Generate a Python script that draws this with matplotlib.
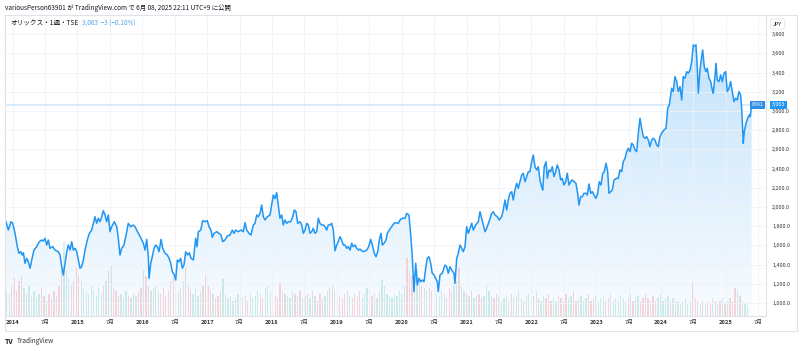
import numpy as np
import matplotlib
matplotlib.use("Agg")
import matplotlib.pyplot as plt
from matplotlib.colors import to_rgb

plt.rcParams['font.family'] = ['Noto Sans CJK JP', 'DejaVu Sans']

# 週足終値 (時刻は小数年)
t = [
    2013.900, 2013.935, 2013.977, 2014.003, 2014.039, 2014.074, 2014.100, 2014.126, 2014.151, 2014.167,
    2014.193, 2014.219, 2014.244, 2014.270, 2014.296, 2014.331, 2014.373, 2014.413, 2014.450, 2014.475,
    2014.501, 2014.527, 2014.552, 2014.578, 2014.620, 2014.655, 2014.706, 2014.732, 2014.759, 2014.783,
    2014.809, 2014.836, 2014.860, 2014.887, 2014.913, 2014.937, 2014.964, 2014.990, 2015.015, 2015.041,
    2015.067, 2015.092, 2015.118, 2015.153, 2015.184, 2015.221, 2015.246, 2015.272, 2015.298, 2015.323,
    2015.349, 2015.375, 2015.400, 2015.426, 2015.452, 2015.477, 2015.503, 2015.529, 2015.570, 2015.607,
    2015.631, 2015.657, 2015.684, 2015.719, 2015.761, 2015.785, 2015.822, 2015.862,
    2015.889, 2015.940, 2015.981, 2016.017, 2016.043, 2016.069, 2016.094, 2016.105, 2016.131, 2016.155,
    2016.182, 2016.208, 2016.233, 2016.259, 2016.290, 2016.316, 2016.351, 2016.387, 2016.413, 2016.439,
    2016.464, 2016.495, 2016.516, 2016.541, 2016.567, 2016.593, 2016.618, 2016.644, 2016.670, 2016.701,
    2016.726, 2016.752, 2016.788, 2016.825, 2016.845, 2016.865, 2016.902, 2016.933, 2016.968, 2017.003,
    2017.030, 2017.060, 2017.081, 2017.107, 2017.148, 2017.184, 2017.215, 2017.241, 2017.276, 2017.312,
    2017.353, 2017.389, 2017.415, 2017.441, 2017.481, 2017.523, 2017.558, 2017.585, 2017.611, 2017.646,
    2017.677, 2017.713, 2017.739, 2017.765, 2017.790, 2017.816, 2017.842, 2017.867, 2017.893, 2017.929,
    2017.970, 2017.996, 2018.021, 2018.047, 2018.073, 2018.098, 2018.124, 2018.151, 2018.175, 2018.201,
    2018.228, 2018.252, 2018.289, 2018.320, 2018.345, 2018.371, 2018.397, 2018.433, 2018.459, 2018.484,
    2018.510, 2018.536, 2018.561, 2018.587, 2018.613, 2018.638, 2018.664, 2018.690, 2018.715, 2018.741,
    2018.767, 2018.792, 2018.818, 2018.844, 2018.869, 2018.895, 2018.921, 2018.946, 2018.972, 2018.999,
    2019.023, 2019.049, 2019.076, 2019.100, 2019.127, 2019.153, 2019.177, 2019.204, 2019.230, 2019.254,
    2019.281, 2019.307, 2019.332, 2019.358, 2019.384, 2019.419, 2019.461, 2019.492, 2019.523, 2019.554,
    2019.578, 2019.605, 2019.631, 2019.655, 2019.682, 2019.702, 2019.728, 2019.759, 2019.779, 2019.810,
    2019.847, 2019.882, 2019.913, 2019.948, 2019.975, 2020.010,
    2020.052, 2020.078, 2020.113, 2020.140, 2020.164, 2020.190, 2020.217, 2020.241, 2020.267, 2020.294,
    2020.318, 2020.345, 2020.371, 2020.395, 2020.422, 2020.448, 2020.472, 2020.499, 2020.525, 2020.550,
    2020.565, 2020.591, 2020.627, 2020.668, 2020.695, 2020.719, 2020.745, 2020.772, 2020.807, 2020.822,
    2020.849, 2020.873, 2020.900, 2020.926, 2020.950, 2020.977, 2021.003, 2021.028, 2021.054, 2021.080,
    2021.105, 2021.142, 2021.182, 2021.208, 2021.234, 2021.259, 2021.285, 2021.311, 2021.347, 2021.388,
    2021.413, 2021.439, 2021.475, 2021.505, 2021.542, 2021.567, 2021.593, 2021.620, 2021.644, 2021.670,
    2021.697, 2021.721, 2021.747, 2021.774, 2021.798, 2021.825, 2021.851, 2021.875, 2021.902, 2021.928,
    2021.953, 2021.979, 2022.005, 2022.030, 2022.056, 2022.082, 2022.107, 2022.133,
    2022.159, 2022.175, 2022.199, 2022.226, 2022.246, 2022.272, 2022.298, 2022.323, 2022.349, 2022.375,
    2022.400, 2022.426, 2022.452, 2022.477, 2022.503, 2022.529, 2022.554, 2022.580, 2022.606, 2022.631,
    2022.657, 2022.688, 2022.714, 2022.734, 2022.761, 2022.785, 2022.811, 2022.842, 2022.862, 2022.889,
    2022.915, 2022.939, 2022.966, 2022.996, 2023.023, 2023.047, 2023.074, 2023.100, 2023.124, 2023.151,
    2023.177, 2023.197, 2023.223, 2023.248, 2023.274, 2023.316, 2023.340, 2023.366, 2023.393, 2023.417,
    2023.444, 2023.470, 2023.494, 2023.521, 2023.547, 2023.572, 2023.598, 2023.624, 2023.649, 2023.675,
    2023.701, 2023.726, 2023.752, 2023.778, 2023.803, 2023.829, 2023.855, 2023.880, 2023.906, 2023.932,
    2023.957, 2023.983, 2024.009, 2024.045, 2024.076, 2024.102, 2024.127,
    2024.164, 2024.188, 2024.214, 2024.241, 2024.265, 2024.292, 2024.318, 2024.342, 2024.369, 2024.395,
    2024.420, 2024.446, 2024.472, 2024.497, 2024.523, 2024.538, 2024.558, 2024.574, 2024.600, 2024.626,
    2024.642, 2024.666, 2024.692, 2024.712, 2024.739, 2024.765, 2024.790, 2024.805, 2024.831, 2024.847,
    2024.867, 2024.893, 2024.919, 2024.944, 2024.970, 2024.996, 2025.021, 2025.047, 2025.073, 2025.098,
    2025.124, 2025.150, 2025.175, 2025.201, 2025.227, 2025.243, 2025.258, 2025.268, 2025.283, 2025.309,
    2025.335, 2025.360, 2025.375, 2025.397,
]
close = [
    1847, 1760, 1847, 1830, 1726, 1587, 1518, 1535, 1500, 1524,
    1414, 1466, 1430, 1362, 1448, 1552, 1587, 1639, 1656, 1646,
    1674, 1604, 1656, 1570, 1587, 1552, 1535, 1500, 1378, 1292,
    1414, 1535, 1604, 1552, 1639, 1552, 1570, 1535, 1448, 1362,
    1378, 1448, 1552, 1656, 1726, 1760, 1830, 1899, 1830, 1883,
    1847, 1899, 1962, 1917, 1847, 1917, 1743, 1795, 1847, 1795,
    1674, 1500, 1570, 1604, 1743, 1830, 1795, 1813,
    1795, 1726, 1674, 1622, 1552, 1663, 1482, 1257, 1414, 1482,
    1570, 1604, 1587, 1535, 1663, 1570, 1518, 1500, 1466, 1414,
    1326, 1292, 1240, 1448, 1430, 1466, 1362, 1396, 1535, 1500,
    1524, 1466, 1448, 1674, 1587, 1743, 1760, 1858, 1847, 1858,
    1795, 1760, 1684, 1726, 1743, 1726, 1708, 1639, 1656, 1698,
    1708, 1760, 1726, 1760, 1743, 1760, 1743, 1837, 1760, 1726,
    1708, 1813, 1830, 1917, 1899, 1934, 2021, 1899, 1865, 1899,
    1917, 2021, 2125, 2090, 2150, 2021, 1883, 1917, 1813, 1865,
    1830, 1847, 1847, 1899, 1969, 1951, 1830, 1847, 1813, 1726,
    1760, 1830, 1813, 1726, 1743, 1778, 1726, 1743, 1883, 1830,
    1813, 1813, 1795, 1760, 1813, 1813, 1830, 1760, 1545, 1604,
    1639, 1691, 1656, 1604, 1604, 1570, 1587, 1552, 1622, 1587,
    1604, 1570, 1552, 1562, 1545, 1535, 1552, 1587, 1663, 1587,
    1518, 1482, 1535, 1656, 1726, 1604, 1622, 1656, 1726, 1760,
    1795, 1830, 1837, 1830, 1865, 1883,
    1883, 1934, 1917, 1708, 1482, 1118, 1414, 1188, 1257, 1222,
    1240, 1222, 1362, 1466, 1482, 1414, 1310, 1292, 1257, 1222,
    1118, 1292, 1310, 1396, 1378, 1310, 1378, 1344, 1310, 1205,
    1466, 1518, 1604, 1570, 1535, 1587, 1795, 1726, 1778, 1830,
    1760, 1813, 1847, 1951, 1883, 1813, 1743, 1778, 1847, 1934,
    1951, 1917, 1899, 1865, 1899, 1969, 2073, 1969, 2073, 2143,
    2160, 2073, 2177, 2247, 2195, 2264, 2334, 2351, 2264, 2316,
    2368, 2368, 2472, 2542, 2420, 2386, 2420, 2280,
    2212, 2177, 2420, 2472, 2299, 2386, 2368, 2420, 2316, 2368,
    2438, 2386, 2282, 2299, 2229, 2264, 2351, 2229, 2264, 2282,
    2264, 2247, 2143, 2021, 2108, 2108, 2143, 2143, 2125, 2240,
    2143, 2160, 2125, 2090, 2143, 2264, 2229, 2351, 2368, 2456,
    2368, 2143, 2160, 2177, 2282, 2299, 2299, 2386, 2368, 2472,
    2507, 2577, 2612, 2577, 2664, 2646, 2594, 2577, 2768, 2924,
    2820, 2733, 2716, 2733, 2698, 2629, 2698, 2716, 2698, 2646,
    2629, 2733, 2768, 2803, 2820, 3029, 3063,
    3237, 3202, 3358, 3306, 3202, 3254, 3115, 3358, 3341, 3410,
    3393, 3428, 3514, 3688, 3678, 3688, 3462, 3185, 3428, 3567,
    3636, 3462, 3410, 3445, 3341, 3306, 3219, 3185, 3358, 3497,
    3323, 3306, 3376, 3306, 3393, 3410, 3202, 3237, 3306, 3202,
    3098, 3133, 3115, 3202, 3167, 3029, 2803, 2664, 2785, 2872,
    2924, 2959, 2942, 3063,
]

# 出来高 (2週ごと, 百万株)
vol_start = 2013.90
volume = [
    25, 22, 30, 38, 25, 35, 40, 28, 22, 30,
    20, 25, 18, 22, 28, 20, 15, 22, 18, 25,
    20, 30, 55, 74, 45, 38, 30, 35, 48, 40,
    35, 28, 25, 22, 30, 25, 20, 28, 22, 30,
    35, 45, 50, 28, 25, 20, 22, 18, 25, 20,
    18, 22, 20, 25, 28, 46, 40, 30, 25, 28,
    30, 25, 22, 28, 20, 25, 35, 39, 30, 25,
    28, 35, 49, 30, 25, 22, 28, 20, 25, 30,
    41, 30, 25, 22, 18, 20, 25, 37, 22, 18,
    20, 15, 18, 22, 25, 18, 20, 15, 22, 18,
    20, 25, 22, 18, 28, 30, 25, 22, 20, 18,
    33, 25, 22, 20, 18, 25, 22, 20, 25, 18,
    20, 22, 18, 25, 20, 15, 22, 18, 20, 25,
    28, 31, 25, 22, 20, 18, 22, 25, 20, 18,
    22, 20, 25, 18, 22, 28, 25, 20, 22, 18,
    25, 36, 30, 22, 20, 18, 22, 20, 25, 22,
    30, 58, 45, 40, 43, 46, 35, 30, 28, 25,
    28, 25, 30, 22, 20, 25, 22, 18, 28, 25,
    30, 35, 48, 30, 25, 22, 20, 25, 18, 20,
    22, 18, 20, 31, 25, 20, 18, 22, 20, 15,
    18, 20, 15, 22, 18, 20, 25, 18, 15, 20,
    22, 18, 20, 25, 18, 15, 20, 18, 22, 15,
    18, 15, 20, 18, 15, 22, 18, 20, 25, 15,
    18, 20, 15, 18, 22, 15, 18, 20, 15, 18,
    20, 15, 18, 22, 15, 18, 15, 20, 18, 15,
    18, 22, 15, 18, 20, 15, 18, 22, 18, 15,
    20, 15, 18, 22, 15, 18, 20, 15, 18, 15,
    15, 12, 15, 18, 12, 15, 34, 18, 15, 12,
    15, 12, 15, 12, 18, 15, 12, 15, 18, 12,
    15, 18, 15, 28, 25, 20, 15, 12, 10,
]

year_ticks = list(range(2014, 2026))
yticks = [1000, 1200, 1400, 1600, 1800, 2000, 2200, 2400, 2600, 2800, 3000, 3200, 3400, 3600, 3800]
ytick_labels = ['1,000.0', '1,200.0', '1,400.0', '1,600.0', '1,800.0', '2,000.0', '2,200.0', '2,400.0',
                '2,600.0', '2,800.0', '3,000.0', '3,200', '3,400', '3,600', '3,800']

LINE = '#2196f3'
W, H = 803, 351

fig = plt.figure(figsize=(W / 100, H / 100), dpi=100)

def px(x0, y0, x1, y1):
    return [x0 / W, 1 - y1 / H, (x1 - x0) / W, (y1 - y0) / H]

rect = px(5, 15, 766, 316)
xlim = (2013.884, 2025.618)
ylim = (865, 4000)

# 出来高 (背面)
vax = fig.add_axes(rect)
t_arr = np.array(t)
c_arr = np.array(close)
vt = vol_start + np.arange(len(volume)) * 14 / 365.25
colors = []
for i, x in enumerate(vt):
    j1 = min(np.searchsorted(t_arr, x + 14 / 365.25), len(close) - 1)
    j0 = min(np.searchsorted(t_arr, x), len(close) - 1)
    colors.append('#22ab94' if c_arr[j1] >= c_arr[j0] else '#f23645')
vax.bar(vt, volume, width=0.02, color=colors, alpha=0.2, linewidth=0, align='edge')
vax.set_xlim(*xlim)
vax.set_ylim(0, max(volume) * 4.05)
vax.axis('off')

# 価格
ax = fig.add_axes(rect)
ax.set_facecolor('none')
ax.set_xlim(*xlim)
ax.set_ylim(*ylim)

grad = np.zeros((256, 1, 4))
grad[..., :3] = to_rgb(LINE)
grad[..., 3] = np.linspace(0.27, 0.03, 256).reshape(-1, 1)
im = ax.imshow(grad, extent=[xlim[0], xlim[1], ylim[0], max(close)], aspect='auto',
               origin='upper', zorder=1)
poly = ax.fill_between(t, close, ylim[0], color='none', linewidth=0)
im.set_clip_path(poly.get_paths()[0], transform=ax.transData)
ax.set_xlim(*xlim)
ax.set_ylim(*ylim)

ax.plot(t, close, color=LINE, lw=1.1, zorder=3, solid_joinstyle='round')
ax.axhline(close[-1], color='#d3e8fb', lw=1.2, zorder=2)

# 軸
mid = [y + 0.5 for y in year_ticks]
ax.set_xticks(year_ticks + mid)
ax.set_xticklabels([str(y) for y in year_ticks] + ['7月'] * len(mid))
for lab in ax.get_xticklabels():
    if lab.get_text() == '7月':
        lab.set_fontweight('normal')
        lab.set_color('#333333')
    else:
        lab.set_fontweight('bold')
        lab.set_color('#131722')
ax.set_yticks(yticks)
ax.set_yticklabels(ytick_labels)
ax.yaxis.tick_right()
ax.tick_params(axis='both', length=0, labelsize=3.9, colors='#333333')
ax.tick_params(axis='x', pad=3.2, labelsize=4.1)
ax.tick_params(axis='y', pad=4.4)
ax.grid(color='#f0f2f6', lw=0.6, zorder=0)
for s in ['top', 'left']:
    ax.spines[s].set_visible(False)
ax.spines['right'].set_color('#e0e3eb')
ax.spines['bottom'].set_color('#e0e3eb')
ax.spines['right'].set_linewidth(0.8)
ax.spines['bottom'].set_linewidth(0.8)

# 外枠
frame = fig.add_axes(px(5, 15, 797, 331))
frame.set_facecolor('none')
frame.set_xticks([])
frame.set_yticks([])
for s in frame.spines.values():
    s.set_color('#e0e3eb')
    s.set_linewidth(0.8)

# 価格ラベル
ax.annotate('8591', xy=(1.0, close[-1]), xycoords=('axes fraction', 'data'),
            xytext=(-8.5, 0), textcoords='offset pixels', ha='center', va='center',
            fontsize=3.8, color='white', zorder=5,
            bbox=dict(boxstyle='square,pad=0.35', fc='#2f8fe8', ec='none'))
ax.annotate('3,063', xy=(1.0, close[-1]), xycoords=('axes fraction', 'data'),
            xytext=(12.5, 0), textcoords='offset pixels', ha='center', va='center',
            fontsize=3.9, color='white', annotation_clip=False, zorder=5,
            bbox=dict(boxstyle='square,pad=0.35', fc='#2196f3', ec='none'))

fig.text(777.5 / W, 1 - 24 / H, 'JPY', fontsize=3.9, color='#131722', ha='center', va='center',
         bbox=dict(boxstyle='round,pad=0.5,rounding_size=0.4', fc='white', ec='#e0e3eb', lw=0.6))

# ヘッダー
fig.text(5 / W, 1 - 7.5 / H, 'variousPerson63901 が TradingView.com で 6月 08, 2025 22:11 UTC+9 に公開',
         fontsize=4.6, color='#131722', va='center', ha='left')
fig.text(10 / W, 1 - 23.5 / H, 'オリックス・1週・TSE', fontsize=4.8, color='#131722',
         va='center', ha='left')
fig.text(82 / W, 1 - 23.5 / H, '3,063  −3 (−0.10%)', fontsize=4.6, color='#4ca3ee',
         va='center', ha='left')

# ロゴ
fig.text(5 / W, 1 - 341 / H, 'TV', fontsize=5, fontweight='bold', color='#131722',
         va='center', ha='left')
fig.text(17 / W, 1 - 341 / H, 'TradingView', fontsize=4.6, color='#333333',
         va='center', ha='left')

fig.savefig('out.png', dpi=100, facecolor='white')
